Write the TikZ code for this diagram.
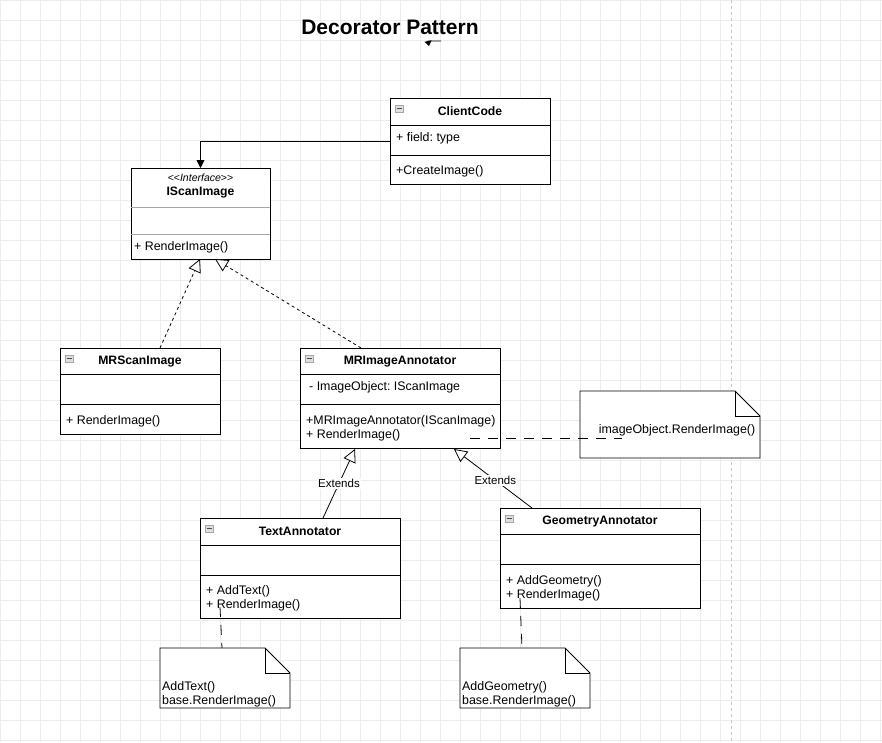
\documentclass[tikz,border=0pt]{standalone}
\usepackage{fontspec}
\setmainfont{Liberation Sans}
\usetikzlibrary{arrows.meta,calc}
\frenchspacing
\begin{document}
\begin{tikzpicture}[x=1pt,y=-1pt,
  box/.style={draw=black, line width=0.9pt, fill=white, anchor=north west, inner sep=0pt, outer sep=0pt},
  txt/.style={font=\fontsize{12.4}{14}\selectfont, anchor=west, inner sep=0pt},
  ttl/.style={font=\bfseries\fontsize{12.2}{14}\selectfont, inner sep=0pt},
  divider/.style={line width=0.9pt, draw=black},
  lightdiv/.style={line width=0.9pt, draw=gray!70},
  realize/.style={dashed, dash pattern=on 3pt off 3pt, line width=0.8pt, -{Triangle[open, length=13pt, width=13pt, fill=white]}},
  extends/.style={line width=0.8pt, -{Triangle[open, length=13pt, width=13pt, fill=white]}},
  notelink/.style={line width=0.8pt, dash pattern=on 10pt off 8pt},
  note/.style={draw=black, line width=0.9pt, fill=white},
  lbl/.style={font=\fontsize{11.5}{13}\selectfont, fill=white, inner sep=1pt},
]
% background and grid
\fill[white] (0,0) rectangle (882,742);
\useasboundingbox (0,0) rectangle (882,742);
\foreach \gx in {0,20,...,880} \draw[gray!14, line width=0.5pt] (\gx,0) -- (\gx,742);
\foreach \gy in {0,20,...,740} \draw[gray!14, line width=0.5pt] (0,\gy) -- (882,\gy);
\draw[gray!45, dash pattern=on 3pt off 3pt, line width=0.6pt] (731,0) -- (731,742);

% title
\node[font=\bfseries\fontsize{21}{24}\selectfont, inner sep=0pt] (title) at (390,27) {Decorator Pattern};
\coordinate (glA) at (441,41);
\coordinate (glB) at (428,41);
\draw[line width=0.8pt, -{Triangle[length=5pt, width=7pt]}] (glA) -- (glB) -- ++(1,5);

% minus icon macro
\newcommand{\minusicon}[2]{%
  \draw[gray!70, fill=gray!25, line width=0.5pt] (#1+5,#2+7) rectangle (#1+13,#2+14);
  \draw[black!70, line width=0.7pt] (#1+6.5,#2+10.5) -- (#1+11.5,#2+10.5);}

% ClientCode
\node[box, minimum width=160pt, minimum height=86pt] (cc) at (390,98) {};
\draw[divider] (390,125) -- (550,125);
\draw[divider] (390,155) -- (550,155);
\minusicon{390}{98}
\node[ttl] (ccT) at (470,111.5) {ClientCode};
\node[txt] (ccA) at (396,138) {+ field: type};
\node[txt] (ccM) at (396,171) {+CreateImage()};

% IScanImage
\node[box, minimum width=139pt, minimum height=91pt] (isi) at (131,168) {};
\draw[lightdiv] (131,207) -- (270,207);
\draw[lightdiv] (131,234) -- (270,234);
\node[font=\fontsize{10.5}{12}\selectfont, inner sep=0pt] (isiS) at (200.5,178) {<\kern0pt<\textit{Interface}>\kern0pt>};
\node[ttl] (isiT) at (200.5,193) {IScanImage};
\node[txt] (isiM) at (134,247) {+ RenderImage()};

% MRScanImage
\node[box, minimum width=160pt, minimum height=86pt] (mrs) at (60,348) {};
\draw[divider] (60,374) -- (220,374);
\draw[divider] (60,404) -- (220,404);
\minusicon{60}{348}
\node[ttl] (mrsT) at (140,361.5) {MRScanImage};
\node[txt] (mrsM) at (66,421) {+ RenderImage()};

% MRImageAnnotator
\node[box, minimum width=200pt, minimum height=100pt] (mra) at (300,348) {};
\draw[divider] (300,374) -- (500,374);
\draw[divider] (300,404) -- (500,404);
\minusicon{300}{348}
\node[ttl] (mraT) at (400,361.5) {MRImageAnnotator};
\node[txt] (mraA) at (309,387) {- ImageObject: IScanImage};
\node[txt] (mraM1) at (306,421) {+MRImageAnnotator(IScanImage)};
\node[txt] (mraM2) at (306,435) {+ RenderImage()};

% TextAnnotator
\node[box, minimum width=200pt, minimum height=100pt] (ta) at (200,518) {};
\draw[divider] (200,545) -- (400,545);
\draw[divider] (200,575) -- (400,575);
\minusicon{200}{518}
\node[ttl] (taT) at (300,531.5) {TextAnnotator};
\node[txt] (taM1) at (206,591) {+ AddText()};
\node[txt] (taM2) at (206,605) {+ RenderImage()};

% GeometryAnnotator
\node[box, minimum width=200pt, minimum height=100pt] (ga) at (500,508) {};
\draw[divider] (500,534) -- (700,534);
\draw[divider] (500,564) -- (700,564);
\minusicon{500}{508}
\node[ttl] (gaT) at (600,521.5) {GeometryAnnotator};
\node[txt] (gaM1) at (506,581) {+ AddGeometry()};
\node[txt] (gaM2) at (506,595) {+ RenderImage()};

% Notes
\draw[note] (580,391) -- (735,391) -- (760,416) -- (760,458) -- (580,458) -- cycle;
\draw[line width=0.9pt] (735,391) -- (735,416) -- (760,416);
\node[txt, anchor=center] (n1) at (677,430) {imageObject.RenderImage()};

\draw[note] (160,648) -- (265,648) -- (290,673) -- (290,708) -- (160,708) -- cycle;
\draw[line width=0.9pt] (265,648) -- (265,673) -- (290,673);
\node[txt, anchor=west] (n2a) at (162,687) {AddText()};
\node[txt, anchor=west] (n2b) at (162,701) {base.RenderImage()};
\coordinate (n2top) at (222,648);

\draw[note] (460,648) -- (565,648) -- (590,673) -- (590,708) -- (460,708) -- cycle;
\draw[line width=0.9pt] (565,648) -- (565,673) -- (590,673);
\node[txt, anchor=west] (n3a) at (462,687) {AddGeometry()};
\node[txt, anchor=west] (n3b) at (462,701) {base.RenderImage()};
\coordinate (n3top) at (522,648);

% connectors
\draw[line width=0.9pt, -{Triangle[length=8pt, width=8pt]}] (cc.west) -| (isi.north);

\coordinate (isiB1) at (200,259);
\coordinate (isiB2) at (215,259);
\coordinate (mrsTop) at (160,348);
\coordinate (mraTop) at (361,348);
\draw[realize] (mrsTop) -- (isiB1);
\draw[realize] (mraTop) -- (isiB2);

\coordinate (mraB1) at (355,449);
\coordinate (mraB2) at (454,449);
\coordinate (taTop) at (323,518);
\coordinate (gaTop) at (532,508);
\draw[extends] (taTop) -- (mraB1) node[lbl, pos=0.5] (ext1) {Extends};
\draw[extends] (gaTop) -- (mraB2) node[lbl, pos=0.47] (ext2) {Extends};

\coordinate (mraLink) at (470,438);
\coordinate (n1Link) at (622,438);
\draw[notelink] (mraLink) -- (n1Link);

\coordinate (taLink) at (220,607);
\draw[notelink] (taLink) -- (n2top);
\coordinate (gaLink) at (520,598);
\draw[notelink] (gaLink) -- (n3top);
\end{tikzpicture}
\end{document}
